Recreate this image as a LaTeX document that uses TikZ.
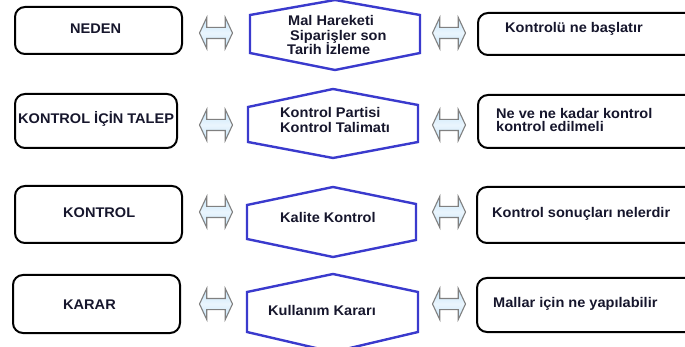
\documentclass[tikz,border=0pt]{standalone}
\usepackage{fontspec}
\setmainfont{Liberation Sans}[FakeStretch=1.04]
\usetikzlibrary{shapes.arrows}
\definecolor{hexblue}{RGB}{58,58,205}
\definecolor{inktext}{RGB}{22,22,44}
\definecolor{arrowfill}{RGB}{196,228,250}
\definecolor{arrowedge}{RGB}{128,128,128}
\begin{document}
\begin{tikzpicture}[x=1pt,y=-1pt,
  roundbox/.style={draw=black,line width=2pt,rounded corners=10pt},
  hexa/.style={draw=hexblue,line width=2.4pt,line join=miter},
  txt/.style={anchor=base west,inner sep=0pt,text=inktext,
    font=\bfseries\fontsize{14}{15}\selectfont},
  dbl/.style={double arrow,draw=arrowedge,line width=1.1pt,
    top color=arrowfill,bottom color=arrowfill,middle color=arrowfill!35,
    inner sep=0pt,minimum height=33pt,minimum width=30pt,
    double arrow head extend=10pt,double arrow tip angle=130,
    text height=10pt,text depth=0pt}]
\useasboundingbox (0,0) rectangle (685,347);
\clip (0,0) rectangle (685,347);

% left column: rounded boxes
\node[roundbox,minimum width=167pt,minimum height=47pt] (L1) at (98.5,30.5) {};
\node[roundbox,minimum width=162pt,minimum height=54pt] (L2) at (96,121) {};
\node[roundbox,minimum width=167pt,minimum height=57pt] (L3) at (98.5,214.5) {};
\node[roundbox,minimum width=167pt,minimum height=58pt] (L4) at (96.5,304) {};

% right column: rounded boxes running past the right edge
\node[roundbox,minimum width=240pt,minimum height=42pt] (R1) at (598,34) {};
\node[roundbox,minimum width=240pt,minimum height=53pt] (R2) at (598,121.5) {};
\node[roundbox,minimum width=240pt,minimum height=56pt] (R3) at (597,215) {};
\node[roundbox,minimum width=240pt,minimum height=54pt] (R4) at (597,305) {};

% middle column: hexagons
\draw[hexa] (335,0) -- (420,15) -- (420,53) -- (335,70) -- (250,53) -- (250,15) -- cycle;
\draw[hexa] (333,89) -- (418,105) -- (418,142) -- (333,158) -- (248,142) -- (248,107) -- cycle;
\draw[hexa] (333,187) -- (416,204) -- (416,240) -- (333,257) -- (247,239) -- (247,205) -- cycle;
\draw[hexa] (333,274) -- (418,292) -- (418,332) -- (333,352) -- (247,332) -- (247,292) -- cycle;

% double arrows between the columns
\node[dbl] (A1l) at (216,33) {};
\node[dbl] (A1r) at (449,33) {};
\node[dbl] (A2l) at (216,125) {};
\node[dbl] (A2r) at (449,125) {};
\node[dbl] (A3l) at (216,212) {};
\node[dbl] (A3r) at (449,212) {};
\node[dbl] (A4l) at (216,304) {};
\node[dbl] (A4r) at (449,304) {};

% texts
\node[txt] (t1a) at (70,34) {NEDEN};
\node[txt] (t1b) at (288,26) {Mal Hareketi};
\node[txt] (t1c) at (290,40.5) {Siparişler son};
\node[txt] (t1d) at (287,55) {Tarih İzleme};
\node[txt] (t1e) at (505,33) {Kontrolü ne başlatır};

\node[txt] (t2a) at (18,124) {KONTROL İÇİN TALEP};
\node[txt] (t2b) at (280,118) {Kontrol Partisi};
\node[txt] (t2c) at (280,133) {Kontrol Talimatı};
\node[txt] (t2d) at (496,119) {Ne ve ne kadar kontrol};
\node[txt] (t2e) at (496,132) {kontrol edilmeli};

\node[txt] (t3a) at (63,218) {KONTROL};
\node[txt] (t3b) at (280,223) {Kalite Kontrol};
\node[txt] (t3c) at (492,218) {Kontrol sonuçları nelerdir};

\node[txt] (t4a) at (63,309) {KARAR};
\node[txt] (t4b) at (268,315) {Kullanım Kararı};
\node[txt] (t4c) at (493,307) {Mallar için ne yapılabilir};
\end{tikzpicture}
\end{document}
